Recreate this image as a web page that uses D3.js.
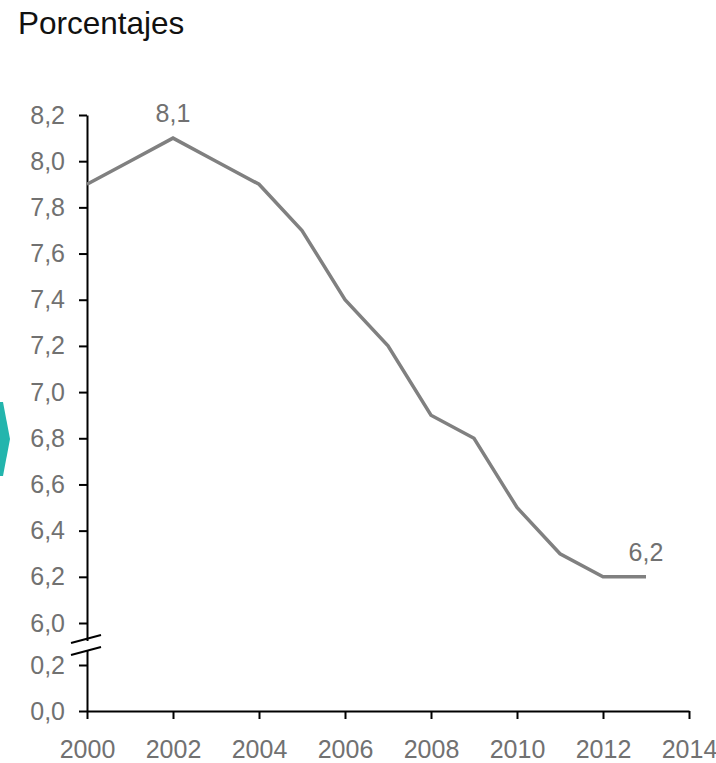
<!DOCTYPE html>
<html>
<head>
<meta charset="utf-8">
<script src="https://cdn.jsdelivr.net/npm/d3@7"></script>
<style>
body { margin: 0; background: #fff; }
svg { display: block; font-family: "Liberation Sans", Arial, sans-serif; }
.axis text { fill: #717171; font-size: 25px; }
.axis path, .axis line { stroke: #000; stroke-width: 2; }
</style>
</head>
<body>
<svg></svg>
<script>
// data
var years = [2000, 2001, 2002, 2003, 2004, 2005, 2006, 2007, 2008, 2009, 2010, 2011, 2012, 2013];
var values = [7.9, 8.0, 8.1, 8.0, 7.9, 7.7, 7.4, 7.2, 6.9, 6.8, 6.5, 6.3, 6.2, 6.2];
var xTicks = [2000, 2002, 2004, 2006, 2008, 2010, 2012, 2014];
var yTicks = [0.0, 0.2, 6.0, 6.2, 6.4, 6.6, 6.8, 7.0, 7.2, 7.4, 7.6, 7.8, 8.0, 8.2];
var labelled = [2002, 2013];

var locale = d3.formatLocale({ decimal: ",", thousands: ".", grouping: [3], currency: ["", " €"] });
var fmt = locale.format(".1f");

var screen = { width: 716, height: 763 };

var svg = d3.select("svg")
    .attr("width", screen.width)
    .attr("height", screen.height);

// broken axis: 0-0.2 then 6.0-8.2
var xScale = d3.scaleLinear()
    .domain([2000, 2014])
    .range([87, 689]);

var yScale = d3.scaleLinear()
    .domain([0, 0.2, 6.0, 8.2])
    .range([711, 665, 623, 115]);

// title
svg.append("text")
    .text("Porcentajes")
    .attr("x", 18)
    .attr("y", 34)
    .attr("fill", "#111")
    .style("font-size", "31.5px");

// little teal marker on the left edge
svg.append("polygon")
    .attr("points", "0,402 3,402 10,439 3,476 0,476")
    .attr("fill", "#23b5ad");

var xAxis = d3.axisBottom(xScale)
    .tickValues(xTicks)
    .tickFormat(d3.format("d"))
    .tickSize(8)
    .tickSizeOuter(0)
    .tickPadding(21);

var yAxis = d3.axisLeft(yScale)
    .tickValues(yTicks)
    .tickFormat(fmt)
    .tickSize(8)
    .tickSizeOuter(0)
    .tickPadding(14);

svg.append("g")
    .classed("axis", true)
    .attr("transform", "translate(0,711)")
    .call(xAxis);

svg.append("g")
    .classed("axis", true)
    .attr("transform", "translate(87,0)")
    .call(yAxis);

// axis break marks
var brk = svg.append("g");
brk.append("rect")
    .attr("x", 84)
    .attr("y", 641)
    .attr("width", 6)
    .attr("height", 10)
    .attr("fill", "#fff");
[0, 12].forEach(function (off) {
    brk.append("line")
        .attr("x1", 71).attr("y1", 643 + off)
        .attr("x2", 101).attr("y2", 635 + off)
        .attr("stroke", "#000")
        .attr("stroke-width", 2);
});

// the series
var pts = years.map(function (y, i) {
    return { year: y, value: values[i] };
});

var lineGenerator = d3.line()
    .x(function (d) { return xScale(d.year); })
    .y(function (d) { return yScale(d.value); });

svg.append("path")
    .datum(pts)
    .attr("d", lineGenerator)
    .attr("fill", "none")
    .attr("stroke", "#808080")
    .attr("stroke-width", 3.5)
    .attr("stroke-linejoin", "miter");

// value labels
svg.selectAll(".val")
    .data(pts.filter(function (d) { return labelled.indexOf(d.year) >= 0; }))
    .enter()
    .append("text")
    .classed("val", true)
    .text(function (d) { return fmt(d.value); })
    .attr("x", function (d) { return xScale(d.year); })
    .attr("y", function (d) { return yScale(d.value) - 16; })
    .attr("text-anchor", "middle")
    .attr("fill", "#717171")
    .style("font-size", "25px");
</script>
</body>
</html>
